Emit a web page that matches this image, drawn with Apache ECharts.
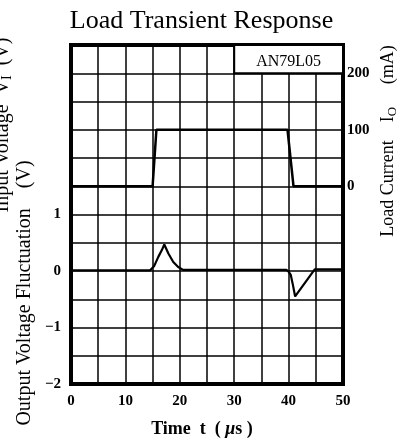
<!DOCTYPE html>
<html>
<head>
<meta charset="utf-8">
<script src="https://cdn.jsdelivr.net/npm/echarts@6/dist/echarts.min.js"></script>
<style>
  html, body { margin: 0; padding: 0; background: #fff; }
  #main { width: 403px; height: 443px; }
</style>
</head>
<body>
<div id="main"></div>
<script>
// 负载电流 (mA)
const currentT = [0, 15, 15.7, 39.8, 40.9, 50]
const currentMA = [0, 0, 100, 100, 0, 0]

// 输出电压波动 (V)
const fluctT = [0, 14.5, 15.3, 16.05, 16.7, 17.15, 17.9, 18.8, 19.7, 20.6, 39.6, 40.0, 40.4, 40.8, 41.2, 42.4, 43.6, 44.8, 50]
const fluctV = [0.01, 0.01, 0.09, 0.25, 0.37, 0.47, 0.31, 0.16, 0.07, 0.02, 0.02, -0.01, -0.07, -0.25, -0.45, -0.29, -0.13, 0.03, 0.03]

// 刻度标签
const xLabels = [0, 10, 20, 30, 40, 50]
const leftLabels = [-2, -1, 0, 1]
const rightLabels = [0, 100, 200]

const serif = 'Liberation Serif'
const zip = (a, b) => a.map((v, i) => [v, b[i]])
const fmtNum = v => (v < 0 ? '\u2212' + Math.abs(v) : String(v))

const chart = echarts.init(document.getElementById('main'))

const tickStyle = { fontFamily: serif, fontSize: 15, fontWeight: 'bold', color: '#000' }
const subRich = (size) => ({
  a: { fontFamily: serif, fontSize: size, lineHeight: 22, fill: '#000' },
  s: { fontFamily: serif, fontSize: Math.round(size * 0.72), lineHeight: 12, verticalAlign: 'bottom', fill: '#000' }
})

const option = {
  backgroundColor: '#fff',
  animation: false,
  title: {
    text: 'Load Transient Response',
    left: 'center',
    top: 3,
    textStyle: { fontFamily: serif, fontSize: 26, fontWeight: 'normal', color: '#000' }
  },
  grid: {
    left: 71, right: 60, top: 45, bottom: 53,
    show: true, borderColor: '#000', borderWidth: 4
  },
  xAxis: {
    type: 'value',
    min: 0, max: 50, interval: 5,
    axisLine: { show: false },
    axisTick: { show: false },
    splitLine: { lineStyle: { color: '#000', width: 1.5 } },
    axisLabel: {
      margin: 10,
      ...tickStyle,
      formatter: v => (xLabels.includes(v) ? String(v) : '')
    },
    name: '{a|Time  t  ( }{i|\u03bc}{a|s )}',
    nameLocation: 'middle',
    nameGap: 36,
    nameTextStyle: {
      padding: [0, 10, 0, 0],
      rich: {
        a: { fontFamily: serif, fontSize: 18, fontWeight: 'bold', color: '#000' },
        i: { fontFamily: serif, fontSize: 18, fontStyle: 'italic', fontWeight: 'bold', color: '#000' }
      }
    }
  },
  yAxis: [
    {
      type: 'value',
      min: -2, max: 4, interval: 0.5,
      axisLine: { show: false },
      axisTick: { show: false },
      splitLine: { lineStyle: { color: '#000', width: 1.5 } },
      axisLabel: {
        margin: 10,
        ...tickStyle,
        formatter: v => (leftLabels.includes(v) ? fmtNum(v) : '')
      }
    },
    {
      type: 'value',
      position: 'right',
      min: -350, max: 250, interval: 50,
      axisLine: { show: false },
      axisTick: { show: false },
      splitLine: { show: false },
      axisLabel: {
        margin: 4,
        ...tickStyle,
        formatter: v => (rightLabels.includes(v) ? String(v) : '')
      }
    }
  ],
  graphic: [
    {
      type: 'text', x: 3, y: 125, rotation: Math.PI / 2,
      style: {
        text: '{a|Input Voltage  V}{s|I}{a|  (V)}',
        align: 'center', verticalAlign: 'middle',
        rich: subRich(20)
      }
    },
    {
      type: 'text', x: 25, y: 293, rotation: Math.PI / 2,
      style: {
        text: 'Output Voltage Fluctuation    (V)',
        align: 'center', verticalAlign: 'middle',
        fontFamily: serif, fontSize: 20, fill: '#000'
      }
    },
    {
      type: 'text', x: 388, y: 141, rotation: Math.PI / 2,
      style: {
        text: '{a|Load Current    I}{s|O}{a|     (mA)}',
        align: 'center', verticalAlign: 'middle',
        rich: subRich(18)
      }
    }
  ],
  series: [
    {
      name: 'Output Voltage Fluctuation',
      type: 'line',
      yAxisIndex: 0,
      showSymbol: false,
      lineStyle: { color: '#000', width: 2.2 },
      data: zip(fluctT, fluctV),
      markArea: {
        silent: true,
        itemStyle: { color: '#fff', borderColor: '#000', borderWidth: 2 },
        label: {
          show: true, position: 'inside', offset: [0, 3],
          fontFamily: serif, fontSize: 16, color: '#000'
        },
        data: [[{ name: 'AN79L05', coord: [30, 3.5] }, { coord: [50, 4] }]]
      }
    },
    {
      name: 'Load Current',
      type: 'line',
      yAxisIndex: 1,
      showSymbol: false,
      lineStyle: { color: '#000', width: 2.5 },
      data: zip(currentT, currentMA)
    }
  ]
}

chart.setOption(option)
window.addEventListener('resize', () => chart.resize())
</script>
</body>
</html>
